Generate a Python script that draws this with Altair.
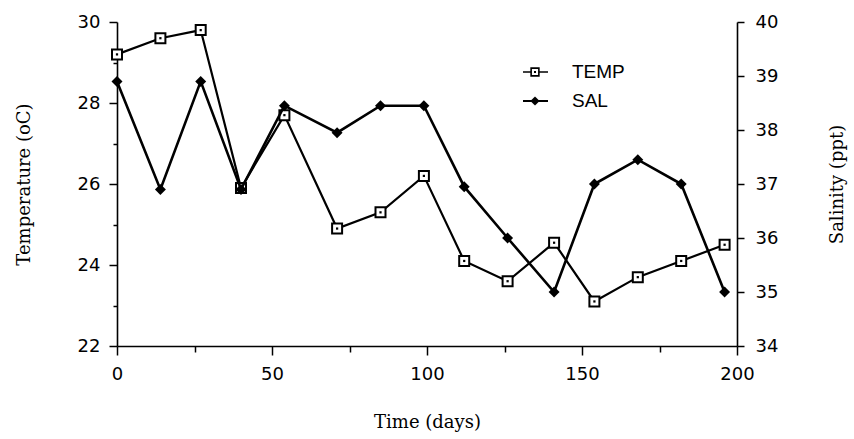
import altair as alt
import pandas as pd

# Sampling days and measured values
days = [0, 14, 27, 40, 54, 71, 85, 99, 112, 126, 141, 154, 168, 182, 196]
temp = [29.2, 29.6, 29.8, 25.9, 27.7, 24.9, 25.3, 26.2, 24.1, 23.6, 24.55, 23.1, 23.7, 24.1, 24.5]
sal = [38.9, 36.9, 38.9, 36.9, 38.45, 37.95, 38.45, 38.45, 36.95, 36.0, 35.0, 37.0, 37.45, 37.0, 35.0]

x_ticks = [0, 25, 50, 75, 100, 125, 150, 175, 200]
temp_ticks = [22, 23, 24, 25, 26, 27, 28, 29, 30]
sal_ticks = [34, 34.5, 35, 35.5, 36, 36.5, 37, 37.5, 38, 38.5, 39, 39.5, 40]

legend_labels = ["TEMP", "SAL"]

df = pd.DataFrame({"day": days, "temp": temp, "sal": sal})

W, H = 620, 324
LABEL_FONT = "DejaVu Sans"
TITLE_FONT = "DejaVu Serif"

common_axis = dict(
    grid=False,
    domainColor="black",
    domainWidth=1.6,
    tickColor="black",
    tickWidth=1.5,
    labelColor="black",
    labelFont=LABEL_FONT,
    labelFontSize=18,
    titleColor="black",
    titleFont=TITLE_FONT,
    titleFontSize=18,
    titleFontWeight="normal",
)

x_enc = alt.X(
    "day:Q",
    scale=alt.Scale(domain=[0, 200], nice=False),
    axis=alt.Axis(
        values=x_ticks,
        format="d",
        labelExpr="datum.value % 50 === 0 ? datum.label : ''",
        tickSize={"condition": {"test": "datum.value % 50 === 0", "value": 9}, "value": 6},
        labelPadding=10,
        title="Time (days)",
        titleX=W / 2,
        titleY=76,
        titleBaseline="middle",
        titleAlign="center",
        labelFlush=False,
        **common_axis,
    ),
)

temp_y = alt.Y(
    "temp:Q",
    scale=alt.Scale(domain=[22, 30], nice=False),
    axis=alt.Axis(
        values=temp_ticks,
        format="d",
        labelExpr="datum.value % 2 === 0 ? datum.label : ''",
        tickSize={"condition": {"test": "datum.value % 2 === 0", "value": 8}, "value": 4},
        labelPadding=9,
        title="Temperature (oC)",
        titleAngle=270,
        titleX=-93,
        titleY=H / 2,
        titleBaseline="middle",
        titleAlign="center",
        labelFlush=False,
        **common_axis,
    ),
)

sal_y = alt.Y(
    "sal:Q",
    scale=alt.Scale(domain=[34, 40], nice=False),
    axis=alt.Axis(
        orient="right",
        values=sal_ticks,
        format="d",
        labelExpr="datum.value % 1 === 0 ? datum.label : ''",
        tickSize={"condition": {"test": "datum.value % 1 === 0", "value": 7}, "value": 4},
        labelPadding=11,
        title="Salinity (ppt)",
        titleAngle=270,
        titleX=100,
        titleY=H / 2,
        titleBaseline="middle",
        titleAlign="center",
        labelFlush=False,
        **common_axis,
    ),
)

base = alt.Chart(df)

# Temperature series: line with open squares carrying a centre dot
temp_line = base.mark_line(color="black", strokeWidth=2.2).encode(x=x_enc, y=temp_y)
temp_sq = base.mark_point(
    shape="square", size=100, filled=True, fill="white", stroke="black", strokeWidth=2, opacity=1
).encode(x="day:Q", y="temp:Q")
temp_dot = base.mark_point(shape="square", size=5, filled=True, color="black", opacity=1).encode(
    x="day:Q", y="temp:Q"
)
temp_layer = alt.layer(temp_line, temp_sq, temp_dot)

# Salinity series: line with filled diamonds
sal_line = base.mark_line(color="black", strokeWidth=2.6).encode(x="day:Q", y=sal_y)
sal_pt = base.mark_point(shape="diamond", size=120, filled=True, color="black", opacity=1).encode(
    x="day:Q", y="sal:Q"
)
sal_layer = alt.layer(sal_line, sal_pt)

# Legend drawn inside the plot area
leg_src = alt.Data(values=[{"label": legend_labels[0]}])
leg_src2 = alt.Data(values=[{"label": legend_labels[1]}])
lx0, lx1, lxc, ltx = 406, 431, 418, 455
ly_t, ly_s = 50, 79

leg_t_line = alt.Chart(leg_src).mark_rule(color="black", strokeWidth=1.5).encode(
    x=alt.value(lx0), x2=alt.value(lx1), y=alt.value(ly_t)
)
leg_t_sym = alt.Chart(leg_src).mark_point(
    shape="square", size=60, filled=True, fill="white", stroke="black", strokeWidth=1.6, opacity=1
).encode(x=alt.value(lxc), y=alt.value(ly_t))
leg_t_dot = alt.Chart(leg_src).mark_point(shape="square", size=4, filled=True, color="black", opacity=1).encode(
    x=alt.value(lxc), y=alt.value(ly_t)
)
leg_t_txt = alt.Chart(leg_src).mark_text(
    align="left", baseline="middle", font="Liberation Sans", fontSize=19, color="black"
).encode(x=alt.value(ltx), y=alt.value(ly_t), text="label:N")

leg_s_line = alt.Chart(leg_src2).mark_rule(color="black", strokeWidth=2).encode(
    x=alt.value(lx0), x2=alt.value(lx1), y=alt.value(ly_s)
)
leg_s_sym = alt.Chart(leg_src2).mark_point(shape="diamond", size=85, filled=True, color="black", opacity=1).encode(
    x=alt.value(lxc), y=alt.value(ly_s)
)
leg_s_txt = alt.Chart(leg_src2).mark_text(
    align="left", baseline="middle", font="Liberation Sans", fontSize=19, color="black"
).encode(x=alt.value(ltx), y=alt.value(ly_s), text="label:N")

legend_layer = alt.layer(leg_t_line, leg_t_sym, leg_t_dot, leg_t_txt, leg_s_line, leg_s_sym, leg_s_txt)

chart = (
    alt.layer(temp_layer, sal_layer, legend_layer)
    .resolve_scale(y="independent")
    .properties(
        width=W,
        height=H,
        padding={"left": 117, "top": 22, "right": 117, "bottom": 93},
        autosize=alt.AutoSizeParams(type="none"),
        background="white",
    )
    .configure_view(stroke=None)
)

chart.save("out.html", embed_options={"renderer": "svg", "actions": False})
